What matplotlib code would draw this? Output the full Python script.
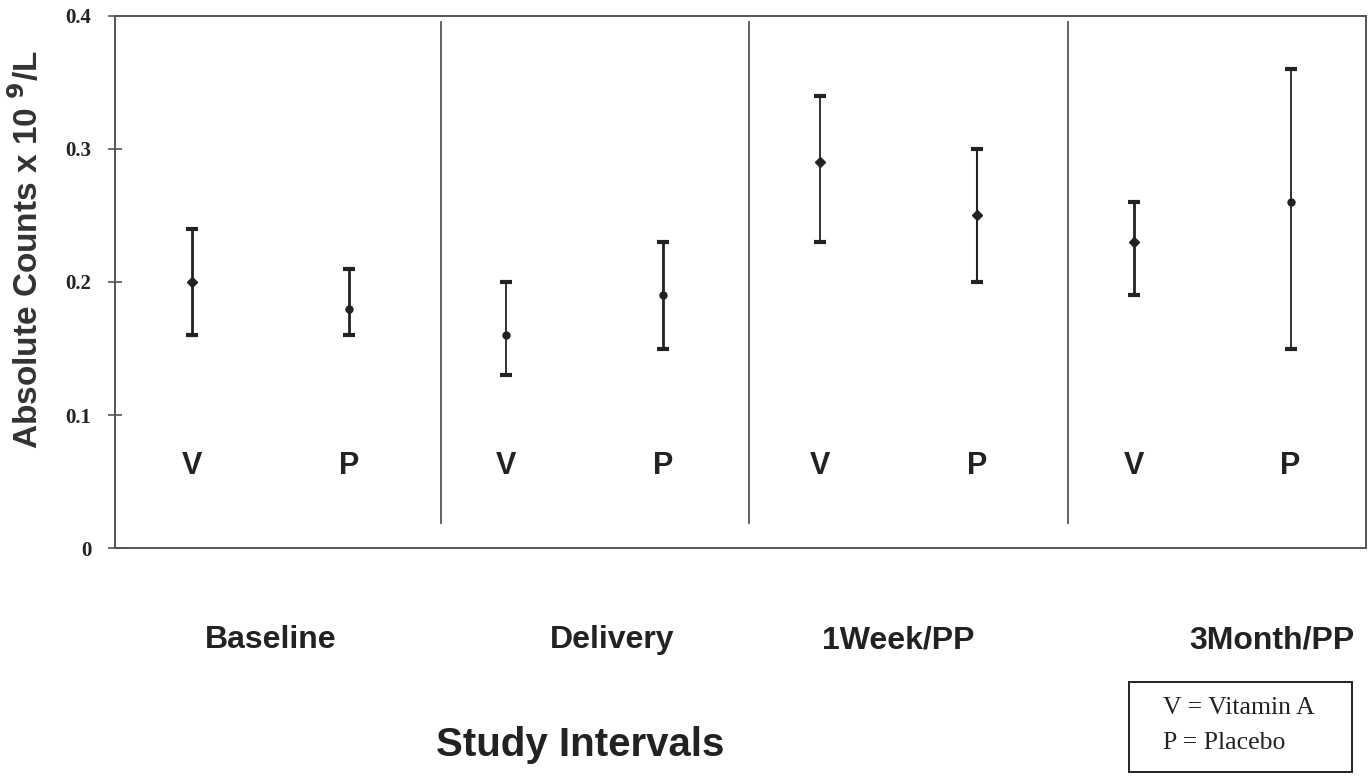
import matplotlib
matplotlib.use("Agg")
import matplotlib.pyplot as plt
from matplotlib.patches import Rectangle

# ---------------------------------------------------------------------------
# Data
# ---------------------------------------------------------------------------

GROUPS     = ["V", "P", "V", "P", "V", "P", "V", "P"]
MEANS      = [0.20, 0.18, 0.16, 0.19, 0.29, 0.25, 0.23, 0.26]
LOWER      = [0.16, 0.16, 0.13, 0.15, 0.23, 0.20, 0.19, 0.15]
UPPER      = [0.24, 0.21, 0.20, 0.23, 0.34, 0.30, 0.26, 0.36]
INTERVALS  = ["Baseline", "Delivery", "1Week/PP", "3Month/PP"]
INTERVAL_X = [1.5, 3.68, 5.5, 7.88]
DIVIDERS   = [2.59, 4.55, 6.58]
Y_TICKS    = [0, 0.1, 0.2, 0.3, 0.4]
Y_TICKLABELS = ["0", "0.1", "0.2", "0.3", "0.4"]

# style per bar (marker shape / line weight as drawn in the original)
MARKERS = ["D", "o", "o", "o", "D", "D", "D", "o"]
LWS     = [2.0, 2.0, 1.3, 2.0, 1.3, 1.5, 2.0, 1.3]

SANS  = ["Liberation Sans", "DejaVu Sans"]
SERIF = ["Liberation Serif", "DejaVu Serif"]
INK   = "#222222"
GREY  = "#555555"

# ---------------------------------------------------------------------------
# Plot
# ---------------------------------------------------------------------------

fig = plt.figure(figsize=(13.72, 7.76), dpi=100)
ax = fig.add_axes([0.0838, 0.2938, 0.9118, 0.6856])

xs = list(range(1, len(MEANS) + 1))
for x, m, lo, hi, mk, lw in zip(xs, MEANS, LOWER, UPPER, MARKERS, LWS):
    ax.errorbar([x], [m], yerr=[[m - lo], [hi - m]], fmt=mk, color=INK,
                ms=5, lw=lw, capsize=4.5, capthick=3, elinewidth=lw)

for x, g in zip(xs, GROUPS):
    ax.text(x, 0.062, g, ha="center", va="center", fontsize=22,
            fontweight="bold", family=SANS, color=INK)

for d in DIVIDERS:
    ax.axvline(d, ymin=0.047, ymax=0.989, color=GREY, lw=1.3)

ax.set_xlim(0.51, 8.48)
ax.set_ylim(0, 0.4)
ax.set_xticks([])
ax.set_yticks(Y_TICKS)
ax.set_yticklabels(Y_TICKLABELS, family=SERIF, fontweight="bold",
                   fontsize=15, color=INK)
ax.tick_params(axis="y", direction="inout", length=10, width=1.2,
               color=GREY, pad=12)
for sp in ax.spines.values():
    sp.set_color(GREY)
    sp.set_linewidth(1.4)

fig.text(27 / 1372, 1 - 250 / 776, r"Absolute Counts x 10 $^{\mathbf{9}}$/L",
         rotation=90, ha="center", va="center", family=SANS,
         fontweight="bold", fontsize=24, color="#333333")

for x, lab in zip(INTERVAL_X, INTERVALS):
    ax.text(x, -0.173, lab, ha="center", va="center", fontsize=23,
            fontweight="bold", family=SANS, color=INK,
            transform=ax.get_xaxis_transform())

fig.text(0.423, 0.04, "Study Intervals", ha="center", va="center",
         fontsize=29, fontweight="bold", family=SANS, color=INK)

# key box
fig.patches.append(Rectangle((0.8229, 0.005), 0.1625, 0.116,
                             transform=fig.transFigure, fill=False,
                             edgecolor=INK, lw=1.4))
fig.text(0.8476, 1 - 708 / 776, "V = Vitamin A", ha="left", va="center",
         fontsize=18.5, family=SERIF, color=INK)
fig.text(0.8476, 1 - 743 / 776, "P = Placebo", ha="left", va="center",
         fontsize=18.5, family=SERIF, color=INK)

fig.savefig("out.png", dpi=100)
